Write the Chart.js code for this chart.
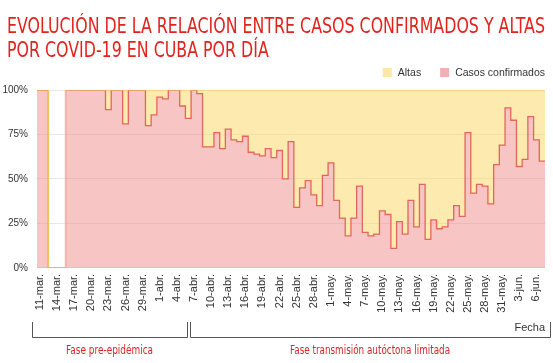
<!DOCTYPE html>
<html lang="es">
<head>
<meta charset="UTF-8">
<title>Casos confirmados y altas por COVID-19 en Cuba</title>
<script src="https://cdn.jsdelivr.net/npm/chart.js"></script>
<style>
  html, body { margin: 0; padding: 0; background: #fff; }
</style>
</head>
<body>
<canvas id="grafico" width="553" height="363"></canvas>
<script>
// un valor por día, del 11-mar al 7-jun (porcentaje del total del día)
const dias = [
  '11-mar.', '12-mar.', '13-mar.', '14-mar.', '15-mar.', '16-mar.', '17-mar.', '18-mar.', '19-mar.', '20-mar.',
  '21-mar.', '22-mar.', '23-mar.', '24-mar.', '25-mar.', '26-mar.', '27-mar.', '28-mar.', '29-mar.', '30-mar.',
  '31-mar.', '1-abr.', '2-abr.', '3-abr.', '4-abr.', '5-abr.', '6-abr.', '7-abr.', '8-abr.', '9-abr.',
  '10-abr.', '11-abr.', '12-abr.', '13-abr.', '14-abr.', '15-abr.', '16-abr.', '17-abr.', '18-abr.', '19-abr.',
  '20-abr.', '21-abr.', '22-abr.', '23-abr.', '24-abr.', '25-abr.', '26-abr.', '27-abr.', '28-abr.', '29-abr.',
  '30-abr.', '1-may.', '2-may.', '3-may.', '4-may.', '5-may.', '6-may.', '7-may.', '8-may.', '9-may.',
  '10-may.', '11-may.', '12-may.', '13-may.', '14-may.', '15-may.', '16-may.', '17-may.', '18-may.', '19-may.',
  '20-may.', '21-may.', '22-may.', '23-may.', '24-may.', '25-may.', '26-may.', '27-may.', '28-may.', '29-may.',
  '30-may.', '31-may.', '1-jun.', '2-jun.', '3-jun.', '4-jun.', '5-jun.', '6-jun.', '7-jun.'
];

const casosConfirmados = [
  100, 100, 0, 0, 0, 100, 100, 100, 100, 100,
  100, 100, 89, 100, 100, 81, 100, 100, 100, 80,
  86, 96, 95, 100, 100, 91, 84, 100, 98, 68,
  68, 76, 67, 78, 72, 71, 74, 65, 64, 63,
  67, 62, 66, 50, 71, 34, 45, 49, 41, 35,
  52, 59, 38, 28, 18, 28, 46, 20, 18, 19,
  32, 30, 11, 26, 19, 38, 23, 47, 16, 27,
  22, 23, 27, 35, 29, 76, 42, 47, 46, 36,
  58, 69, 90, 83, 57, 61, 85, 72, 60
];

const altas = [
  0, 0, 0, 0, 0, 0, 0, 0, 0, 0,
  0, 0, 11, 0, 0, 19, 0, 0, 0, 20,
  14, 4, 5, 0, 0, 9, 16, 0, 2, 32,
  32, 24, 33, 22, 28, 29, 26, 35, 36, 37,
  33, 38, 34, 50, 29, 66, 55, 51, 59, 65,
  48, 41, 62, 72, 82, 72, 54, 80, 82, 81,
  68, 70, 89, 74, 81, 62, 77, 53, 84, 73,
  78, 77, 73, 65, 71, 24, 58, 53, 54, 64,
  42, 31, 10, 17, 43, 39, 15, 28, 40
];

const etiquetasEje = [
  '11-mar.', '14-mar.', '17-mar.', '20-mar.', '23-mar.', '26-mar.', '29-mar.', '1-abr.', '4-abr.', '7-abr.',
  '10-abr.', '13-abr.', '16-abr.', '19-abr.', '22-abr.', '25-abr.', '28-abr.', '1-may.', '4-may.', '7-may.',
  '10-may.', '13-may.', '16-may.', '19-may.', '22-may.', '25-may.', '28-may.', '31-may.', '3-jun.', '6-jun.'
];

const titulo = ['EVOLUCIÓN DE LA RELACIÓN ENTRE CASOS CONFIRMADOS Y ALTAS', 'POR COVID-19 EN CUBA POR DÍA'];

const fases = [
  { texto: 'Fase pre-epidémica', desde: '11-mar.', hasta: '6-abr.', ancho: 87 },
  { texto: 'Fase transmisión autóctona limitada', desde: '7-abr.', hasta: '7-jun.', ancho: 160 }
];

const fuente = "'Liberation Sans', Arial, sans-serif";
const fuenteEstrecha = "'Liberation Sans Narrow', 'DejaVu Sans Condensed', 'Liberation Sans', sans-serif";
const rojo = '#e3221d';

// cada día ocupa el tramo [i, i+1] del eje; el último punto cierra el tramo final
let puntos = (serie) => serie.map((v, i) => ({ x: i, y: v }))
  .concat([{ x: serie.length, y: serie[serie.length - 1] }]);

const total = casosConfirmados.map((v, i) => v + altas[i]);

const coloresLeyenda = ['#fce6a8', '#efb1b5'];

// texto estrechado a un ancho dado
let textoAjustado = (ctx, texto, x, y, ancho) => {
  const k = ancho / ctx.measureText(texto).width;
  ctx.save();
  ctx.translate(x, y);
  ctx.scale(k, 1);
  ctx.fillText(texto, 0, 0);
  ctx.restore();
  return k;
};

// título, leyenda y llaves de las fases
const adornos = {
  id: 'adornos',
  afterDraw(chart) {
    const ctx = chart.ctx;
    const x = chart.scales.x;
    ctx.save();

    ctx.fillStyle = rojo;
    ctx.font = '21px ' + fuenteEstrecha;
    ctx.textAlign = 'left';
    ctx.textBaseline = 'alphabetic';
    const k = textoAjustado(ctx, titulo[0], 7, 33, 538);
    textoAjustado(ctx, titulo[1], 7, 57, ctx.measureText(titulo[1]).width * k);

    // leyenda alineada a la derecha
    ctx.font = '10.5px ' + fuente;
    ctx.textBaseline = 'middle';
    let derecha = chart.chartArea.right;
    for (let i = chart.data.datasets.length - 1; i >= 0; i--) {
      const texto = chart.data.datasets[i].label;
      const ancho = ctx.measureText(texto).width;
      ctx.fillStyle = '#333';
      ctx.textAlign = 'right';
      ctx.fillText(texto, derecha, 73);
      ctx.fillStyle = coloresLeyenda[i];
      ctx.fillRect(derecha - ancho - 15, 68, 9, 9);
      derecha = derecha - ancho - 15 - 19;
    }

    const arriba = 322, abajo = 337;
    ctx.strokeStyle = '#555';
    ctx.lineWidth = 1;
    fases.forEach((f, n) => {
      let izq = x.getPixelForValue(dias.indexOf(f.desde));
      let der = x.getPixelForValue(dias.indexOf(f.hasta) + 1);
      izq = n === 0 ? izq - 5 : izq - 1;
      der = n === 0 ? der - 4 : der + 5;
      ctx.beginPath();
      ctx.moveTo(Math.round(izq) + 0.5, arriba);
      ctx.lineTo(Math.round(izq) + 0.5, abajo + 0.5);
      ctx.lineTo(Math.round(der) + 0.5, abajo + 0.5);
      ctx.lineTo(Math.round(der) + 0.5, arriba);
      ctx.stroke();

      ctx.fillStyle = '#d9232a';
      ctx.font = '12px ' + fuenteEstrecha;
      ctx.textAlign = 'left';
      ctx.textBaseline = 'middle';
      textoAjustado(ctx, f.texto, (izq + der) / 2 - f.ancho / 2, 351, f.ancho);
    });
    ctx.restore();
  }
};

new Chart(document.getElementById('grafico'), {
  type: 'line',
  data: {
    datasets: [
      {
        label: 'Altas',
        data: puntos(total),
        stepped: true,
        fill: '+1',
        backgroundColor: 'rgba(251, 213, 93, 0.5)',
        borderColor: '#f3cc5e',
        borderWidth: 1,
        pointRadius: 0
      },
      {
        label: 'Casos confirmados',
        data: puntos(casosConfirmados),
        stepped: true,
        fill: 'origin',
        backgroundColor: 'rgba(237, 126, 124, 0.45)',
        borderColor: '#e3665a',
        borderWidth: 1.3,
        pointRadius: 0
      }
    ]
  },
  options: {
    responsive: false,
    devicePixelRatio: 1,
    animation: false,
    layout: { padding: { left: 1, right: 8, top: 90, bottom: 28 } },
    plugins: {
      filler: { drawTime: 'beforeDatasetsDraw' },
      tooltip: { enabled: false },
      title: { display: false },
      legend: { display: false }
    },
    scales: {
      x: {
        type: 'linear',
        min: 0,
        max: dias.length,
        grid: { display: false, drawTicks: false },
        border: { display: false },
        afterBuildTicks: (eje) => {
          eje.ticks = etiquetasEje.map(e => ({ value: dias.indexOf(e) + 0.5 }));
        },
        afterFit: (eje) => {
          eje.paddingLeft = 0;
          eje.paddingRight = 0;
        },
        ticks: {
          autoSkip: false,
          minRotation: 90,
          maxRotation: 90,
          padding: 6,
          color: '#333',
          font: { family: fuente, size: 11 },
          callback: (v) => dias[Math.floor(v)]
        },
        title: {
          display: true,
          text: 'Fecha',
          align: 'end',
          color: '#333',
          font: { family: fuente, size: 11 },
          padding: { top: 3, bottom: 0 }
        }
      },
      y: {
        min: 0,
        max: 100,
        grid: { color: 'rgba(0, 0, 0, 0.09)', drawTicks: false },
        border: { display: false },
        afterFit: (eje) => {
          eje.width = 36;
        },
        ticks: {
          stepSize: 25,
          padding: 9,
          color: '#333',
          font: { family: fuente, size: 10 },
          callback: (v) => v + '%'
        }
      }
    }
  },
  plugins: [adornos]
});
</script>
</body>
</html>
